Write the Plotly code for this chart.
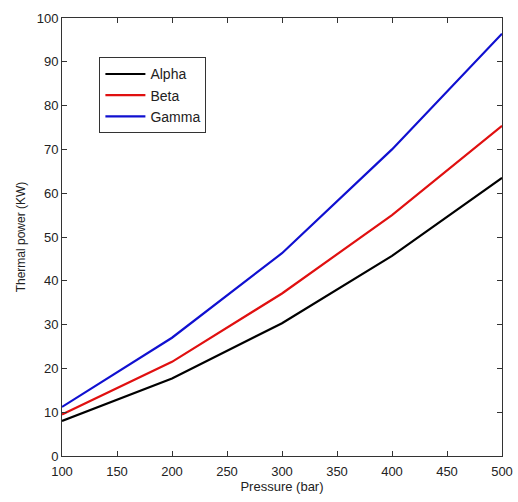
import plotly.graph_objects as go

pressure = [100, 200, 300, 400, 500]
alpha = [8.0, 17.7, 30.3, 45.7, 63.5]
beta = [9.5, 21.5, 37.1, 55.0, 75.4]
gamma = [11.2, 27.0, 46.3, 70.0, 96.4]

series_names = ["Alpha", "Beta", "Gamma"]
series_values = [alpha, beta, gamma]
series_colors = ["#000000", "#e01010", "#1010d0"]

x_ticks = [100, 150, 200, 250, 300, 350, 400, 450, 500]
y_ticks = [0, 10, 20, 30, 40, 50, 60, 70, 80, 90, 100]

fig = go.Figure()
for name, vals, col in zip(series_names, series_values, series_colors):
    fig.add_trace(go.Scatter(x=pressure, y=vals, mode="lines", name=name,
                             line=dict(color=col, width=2.2)))

axis_common = dict(showline=True, linecolor="#333333", linewidth=1, mirror="ticks",
                   ticks="inside", ticklen=5, tickcolor="#333333", showgrid=False,
                   zeroline=False, automargin=False,
                   tickfont=dict(family="Liberation Sans Narrow, Liberation Sans, Arial", size=13, color="#222222"))

fig.update_layout(
    width=518, height=502,
    margin=dict(l=62, r=16, t=18, b=46),
    paper_bgcolor="white", plot_bgcolor="white",
    xaxis=dict(range=[100, 500], tickvals=x_ticks, ticklabelstandoff=3,
               title=dict(text="Pressure (bar)", standoff=2,
                          font=dict(family="Liberation Sans Narrow, Liberation Sans, Arial", size=13, color="#222222")),
               **axis_common),
    yaxis=dict(range=[0, 100], tickvals=y_ticks,
               title=dict(text="Thermal power (KW)", standoff=8,
                          font=dict(family="Liberation Sans, Arial", size=12, color="#222222")),
               **axis_common),
    legend=dict(x=0.085, y=0.91, xanchor="left", yanchor="top",
                bgcolor="white", bordercolor="#333333", borderwidth=1,
                font=dict(family="Liberation Sans Narrow, Liberation Sans, Arial", size=14, color="#222222"),
                tracegroupgap=0, itemwidth=40),
    showlegend=True,
)

fig.write_html("out.html")
